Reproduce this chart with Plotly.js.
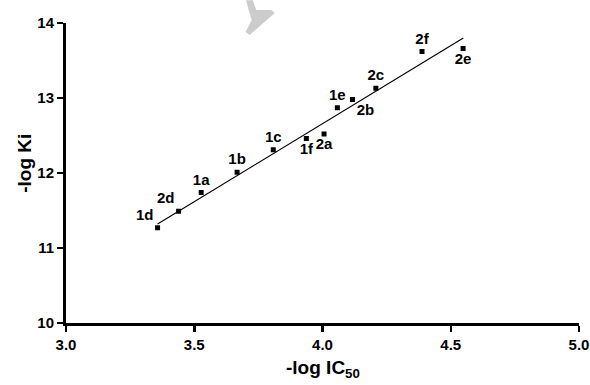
<!DOCTYPE html>
<html>
<head>
<meta charset="utf-8">
<script src="https://cdn.plot.ly/plotly-3.0.1.min.js"></script>
<style>html,body{margin:0;padding:0;background:#fff;}#chart{width:590px;height:385px;}</style>
</head>
<body>
<div id="chart"></div>
<script>
// Compounds (labels), -log IC50 (x) and -log Ki (y)
const compounds = ["1d","2d","1a","1b","1c","1f","2a","1e","2b","2c","2f","2e"];
const logIC50   = [3.357,3.439,3.527,3.667,3.808,3.937,4.006,4.058,4.117,4.208,4.388,4.548];
const logKi     = [11.27,11.49,11.74,12.01,12.31,12.46,12.52,12.87,12.98,13.13,13.62,13.66];
// Regression line end points
const fitX = [3.357, 4.549];
const fitY = [11.32, 13.80];
// Tick values
const xTicks = [3.0, 3.5, 4.0, 4.5, 5.0];
const yTicks = [10, 11, 12, 13, 14];

const labelPos = ["top left","top left","top center","top center","top center","bottom center",
                  "bottom center","top center","bottom right","top center","top center","bottom center"];

const font = "Liberation Sans, Arial, sans-serif";
const b = s => "<b>" + s + "</b>";

const traces = [
  {x: fitX, y: fitY, mode: "lines", line: {color: "#000", width: 1.2}, hoverinfo: "skip"},
  {x: logIC50, y: logKi, text: compounds.map(b), mode: "markers+text", textposition: labelPos,
   marker: {symbol: "square", size: 5, color: "#000"},
   textfont: {family: font, size: 15, color: "#000"}}
];

const axisCommon = {
  showline: true, linecolor: "#000", linewidth: 3, mirror: false,
  ticks: "outside", ticklen: 6, tickwidth: 2.5, tickcolor: "#000",
  showgrid: false, zeroline: false,
  tickfont: {family: font, size: 15, color: "#000"}
};

const layout = {
  width: 590, height: 385,
  margin: {l: 66, r: 11, t: 23, b: 62},
  paper_bgcolor: "#fff", plot_bgcolor: "#fff",
  showlegend: false,
  xaxis: Object.assign({}, axisCommon, {range: [3, 5], tickvals: xTicks, ticktext: xTicks.map(v => b(v.toFixed(1)))}),
  yaxis: Object.assign({}, axisCommon, {range: [10, 14], tickvals: yTicks, ticktext: yTicks.map(v => b(String(v)))}),
  annotations: [
    {text: "<b>-log IC<sub>50</sub></b>", xref: "paper", yref: "paper", x: 0.5, y: -0.107, yanchor: "top",
     showarrow: false, font: {family: font, size: 19, color: "#000"}},
    {text: "<b>-log Ki</b>", xref: "paper", yref: "paper", x: -0.08, y: 0.534, xanchor: "center", yanchor: "middle",
     textangle: -90, showarrow: false, font: {family: font, size: 19, color: "#000"}}
  ],
  shapes: [
    {type: "path", xref: "paper", yref: "paper", layer: "below", fillcolor: "#cccccc", line: {width: 0},
     path: "M 0.351 1.076 L 0.364 1.076 L 0.371 1.043 L 0.400 1.043 L 0.407 1.033 L 0.358 0.960 L 0.350 0.970 L 0.362 1.010 L 0.356 1.043 Z"}
  ]
};

Plotly.newPlot("chart", traces, layout, {displayModeBar: false, staticPlot: true});
</script>
</body>
</html>
